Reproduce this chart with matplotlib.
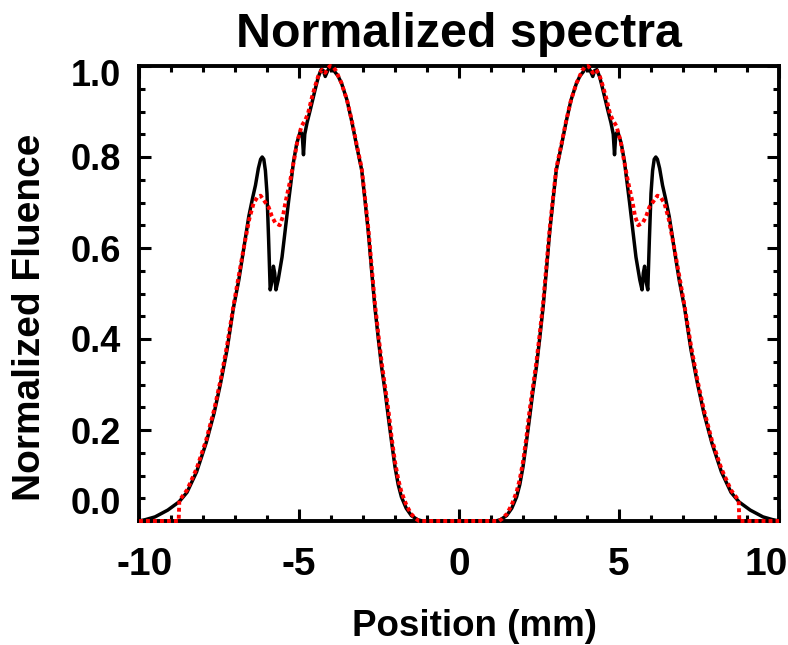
import matplotlib
matplotlib.use("Agg")
import matplotlib.pyplot as plt
import matplotlib.transforms as mtrans
from matplotlib.ticker import MultipleLocator

# ---------------- data ----------------
black_x = [-10.0, -9.8, -9.5, -9.1, -8.75, -8.5, -8.2, -7.9, -7.65, -7.45, -7.25, -7.05,
           -6.88, -6.7, -6.57, -6.45, -6.36, -6.27, -6.2, -6.15, -6.1, -6.05, -6.0, -5.95,
           -5.9, -5.85, -5.8, -5.76, -5.72, -5.65, -5.53, -5.43, -5.33, -5.25, -5.17, -5.07,
           -4.96, -4.9, -4.86, -4.82, -4.75, -4.65, -4.5, -4.4, -4.31, -4.24, -4.18, -4.1,
           -4.03, -3.95, -3.89, -3.78, -3.67, -3.5, -3.35, -3.2, -3.04, -2.93, -2.83, -2.73,
           -2.63, -2.52, -2.42, -2.3, -2.21, -2.1, -2.0, -1.9, -1.8, -1.65, -1.49, -1.3, -1.15,
           1.15, 1.3, 1.49, 1.65, 1.8, 1.9, 2.0, 2.1, 2.21, 2.3, 2.42, 2.52, 2.63, 2.73, 2.83,
           2.93, 3.04, 3.2, 3.35, 3.5, 3.67, 3.78, 3.89, 3.95, 4.03, 4.1, 4.18, 4.24, 4.31,
           4.4, 4.5, 4.65, 4.75, 4.82, 4.86, 4.9, 4.96, 5.07, 5.17, 5.25, 5.33, 5.43, 5.53,
           5.65, 5.72, 5.76, 5.8, 5.85, 5.9, 5.95, 6.0, 6.05, 6.1, 6.15, 6.2, 6.27, 6.36,
           6.45, 6.57, 6.7, 6.88, 7.05, 7.25, 7.45, 7.65, 7.9, 8.2, 8.5, 8.75, 9.1, 9.5, 9.8, 10.0]
black_y = [0.0, 0.003, 0.009, 0.024, 0.042, 0.063, 0.108, 0.172, 0.238, 0.303, 0.376, 0.468,
           0.53, 0.61, 0.669, 0.71, 0.738, 0.775, 0.795, 0.80, 0.795, 0.77, 0.72, 0.62,
           0.508, 0.525, 0.56, 0.545, 0.508, 0.53, 0.58, 0.64, 0.70, 0.745, 0.79, 0.83,
           0.856, 0.85, 0.805, 0.85, 0.875, 0.903, 0.947, 0.975, 0.992, 0.99, 0.977, 0.99,
           1.0, 0.996, 0.988, 0.978, 0.962, 0.925, 0.878, 0.825, 0.771, 0.70, 0.632, 0.55,
           0.471, 0.40, 0.339, 0.28, 0.229, 0.17, 0.119, 0.08, 0.053, 0.028, 0.012, 0.003, 0.0,
           0.0, 0.003, 0.012, 0.028, 0.053, 0.08, 0.119, 0.17, 0.229, 0.28, 0.339, 0.40, 0.471,
           0.55, 0.632, 0.70, 0.771, 0.825, 0.878, 0.925, 0.962, 0.978, 0.988, 0.996, 1.0,
           0.99, 0.977, 0.99, 0.992, 0.975, 0.947, 0.903, 0.875, 0.85, 0.805, 0.85, 0.856,
           0.83, 0.79, 0.745, 0.70, 0.64, 0.58, 0.53, 0.508, 0.545, 0.56, 0.525, 0.508, 0.62,
           0.72, 0.77, 0.795, 0.80, 0.795, 0.775, 0.738, 0.71, 0.669, 0.61, 0.53, 0.468,
           0.376, 0.303, 0.238, 0.172, 0.108, 0.063, 0.042, 0.024, 0.009, 0.003, 0.0]

red_x = [-10.0, -8.76, -8.74, -8.5, -8.2, -7.9, -7.65, -7.45, -7.25, -7.05, -6.88, -6.7,
         -6.55, -6.42, -6.3, -6.2, -6.1, -5.95, -5.85, -5.74, -5.6, -5.5, -5.43, -5.27,
         -5.15, -5.05, -4.92, -4.8, -4.72, -4.6, -4.5, -4.38, -4.28, -4.18, -4.1, -4.03,
         -3.93, -3.85, -3.67, -3.5, -3.35, -3.2, -3.04, -2.93, -2.83, -2.73, -2.63, -2.52,
         -2.42, -2.3, -2.2, -2.1, -2.0, -1.9, -1.8, -1.65, -1.5, -1.35, -1.25,
         1.25, 1.35, 1.5, 1.65, 1.8, 1.9, 2.0, 2.1, 2.2, 2.3, 2.42, 2.52, 2.63, 2.73, 2.83,
         2.93, 3.04, 3.2, 3.35, 3.5, 3.67, 3.85, 3.93, 4.03, 4.1, 4.18, 4.28, 4.38, 4.5,
         4.6, 4.72, 4.8, 4.92, 5.05, 5.15, 5.27, 5.43, 5.5, 5.6, 5.74, 5.85, 5.95, 6.1,
         6.2, 6.3, 6.42, 6.55, 6.7, 6.88, 7.05, 7.25, 7.45, 7.65, 7.9, 8.2, 8.5, 8.74, 8.76, 10.0]
red_y = [0.0, 0.0, 0.045, 0.068, 0.115, 0.178, 0.245, 0.31, 0.385, 0.472, 0.54, 0.61,
         0.665, 0.698, 0.712, 0.715, 0.705, 0.69, 0.67, 0.655, 0.65, 0.67, 0.698, 0.75,
         0.795, 0.835, 0.868, 0.882, 0.895, 0.93, 0.955, 0.982, 0.992, 0.985, 0.995, 1.0,
         0.998, 0.99, 0.962, 0.925, 0.88, 0.828, 0.775, 0.705, 0.64, 0.56, 0.48, 0.41,
         0.35, 0.29, 0.24, 0.18, 0.13, 0.092, 0.064, 0.036, 0.016, 0.005, 0.0,
         0.0, 0.005, 0.016, 0.036, 0.064, 0.092, 0.13, 0.18, 0.24, 0.29, 0.35, 0.41, 0.48,
         0.56, 0.64, 0.705, 0.775, 0.828, 0.88, 0.925, 0.962, 0.99, 0.998, 1.0, 0.995,
         0.985, 0.992, 0.982, 0.955, 0.93, 0.895, 0.882, 0.868, 0.835, 0.795, 0.75, 0.698,
         0.67, 0.65, 0.655, 0.67, 0.69, 0.705, 0.715, 0.712, 0.698, 0.665, 0.61, 0.54,
         0.472, 0.385, 0.31, 0.245, 0.178, 0.115, 0.068, 0.045, 0.0, 0.0]

x_ticks = [-10, -5, 0, 5, 10]
x_tick_labels = ["-10", "-5", "0", "5", "10"]
y_ticks = [0.0, 0.2, 0.4, 0.6, 0.8, 1.0]
y_tick_labels = ["0.0", "0.2", "0.4", "0.6", "0.8", "1.0"]

title = "Normalized spectra"
xlabel = "Position (mm)"
ylabel = "Normalized Fluence"

# ---------------- figure ----------------
FONT = "Liberation Sans"
W, H = 788, 645
fig = plt.figure(figsize=(W / 100, H / 100), dpi=100)
L, R, T, B = 139, 779, 66, 521
ax = fig.add_axes([L / W, 1 - B / H, (R - L) / W, (B - T) / H])

ax.plot(black_x, black_y, color="black", lw=2.5, solid_joinstyle="round",
        clip_on=False, zorder=3)
ax.plot(red_x, red_y, color="red", lw=2.8, linestyle=(0, (1.0, 0.8)),
        dash_capstyle="butt", clip_on=False, zorder=4)

ax.set_xlim(-10, 10)
ax.set_ylim(0, 1.0)
ax.set_xticks(x_ticks)
ax.set_xticklabels(x_tick_labels)
ax.set_yticks(y_ticks)
ax.set_yticklabels(y_tick_labels)
ax.xaxis.set_minor_locator(MultipleLocator(1))
ax.yaxis.set_minor_locator(MultipleLocator(0.05))

for s in ax.spines.values():
    s.set_linewidth(2.8)
    s.set_zorder(2.5)

ax.tick_params(which="both", direction="in", top=True, right=True, width=2.2)
ax.tick_params(which="major", length=8.5)
ax.tick_params(which="minor", length=4)
ax.tick_params(axis="x", which="major", pad=19)
ax.tick_params(axis="y", which="major", pad=13)

for lab in ax.get_xticklabels():
    lab.set_fontfamily(FONT)
    lab.set_fontweight("bold")
    lab.set_fontsize(28)
for lab in ax.get_yticklabels():
    lab.set_fontfamily(FONT)
    lab.set_fontweight("bold")
    lab.set_fontsize(26)

ax.set_title(title, fontfamily=FONT, fontweight="bold", fontsize=34.8,
             y=(B - 46.7) / (B - T), pad=0, va="baseline")
ax.set_xlabel(xlabel, fontfamily=FONT, fontweight="bold", fontsize=26.5, va="center")
ax.xaxis.set_label_coords((474 - L) / (R - L), (B - 627) / (B - T))
ax.set_ylabel(ylabel, fontfamily=FONT, fontweight="bold", fontsize=28, va="center")
ax.yaxis.set_label_coords((30 - L) / (R - L), (B - 317) / (B - T))


def shift(label, dx, dy):
    label.set_transform(label.get_transform() +
                        mtrans.ScaledTranslation(dx / fig.dpi, dy / fig.dpi,
                                                 fig.dpi_scale_trans))


xt = ax.xaxis.get_major_ticks()
shift(xt[0].label1, 6, 0)
shift(xt[-1].label1, -13, 0)
yt = ax.yaxis.get_major_ticks()
shift(yt[0].label1, 0, 21)
shift(yt[-1].label1, 0, -6)

fig.savefig("out.png", dpi=100)
